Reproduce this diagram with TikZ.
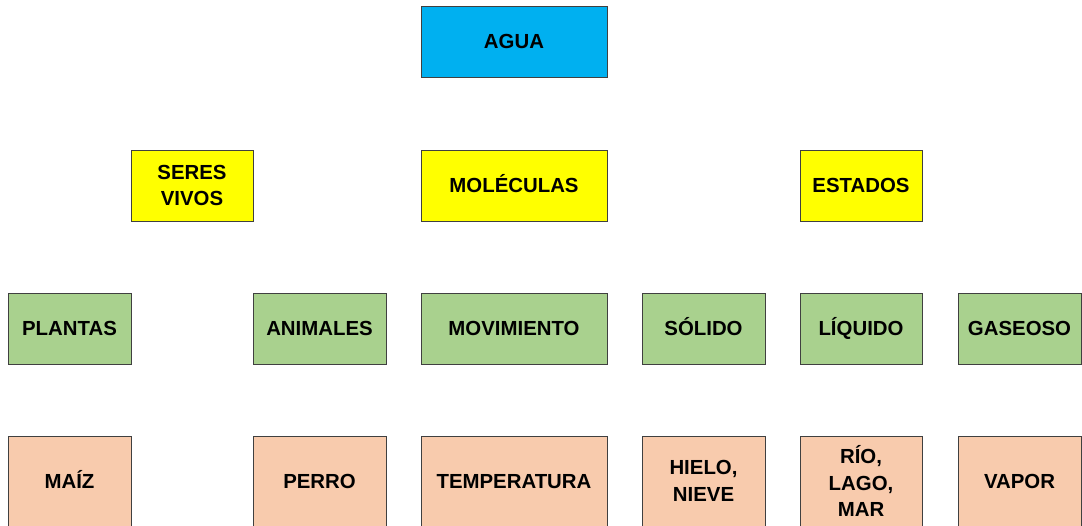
\documentclass[tikz,border=0pt]{standalone}
\usepackage{fontspec}
\setmainfont{Liberation Sans}
\definecolor{aguablue}{HTML}{00B0F0}
\definecolor{nivelyellow}{HTML}{FFFF00}
\definecolor{nivelgreen}{HTML}{A9D18E}
\definecolor{nivelsalmon}{HTML}{F8CBAD}
\begin{document}
\begin{tikzpicture}[x=0.025cm,y=-0.025cm,
   caja/.style={draw=black!75,line width=0.7pt,rectangle,align=center,inner sep=0pt,
      font=\fontsize{14.5}{18.8}\selectfont\bfseries,minimum height=71*0.025cm,
      text height=1.02em,text depth=0pt},
   varias/.style={text height=,text depth=},
   ancho/.style={minimum width=#1*0.025cm},
   azul/.style={caja,fill=aguablue},
   amarillo/.style={caja,fill=nivelyellow},
   verde/.style={caja,fill=nivelgreen},
   salmon/.style={caja,fill=nivelsalmon,minimum height=90*0.025cm}]
\useasboundingbox (0,0) rectangle (1082,525);
% nivel 1
\node[azul,ancho=186] (agua) at (514,41.5) {AGUA};
% nivel 2
\node[amarillo,varias,ancho=122] (seres) at (192,185.5) {SERES\\VIVOS};
\node[amarillo,ancho=186] (moleculas) at (514,185.5) {MOLÉCULAS};
\node[amarillo,ancho=122] (estados) at (861,185.5) {ESTADOS};
% nivel 3
\node[verde,ancho=123] (plantas) at (69.5,328.5) {PLANTAS};
\node[verde,ancho=133] (animales) at (319.5,328.5) {ANIMALES};
\node[verde,ancho=186] (movimiento) at (514,328.5) {MOVIMIENTO};
\node[verde,ancho=123] (solido) at (703.5,328.5) {SÓLIDO};
\node[verde,ancho=122] (liquido) at (861,328.5) {LÍQUIDO};
\node[verde,ancho=123] (gaseoso) at (1019.5,328.5) {GASEOSO};
% nivel 4
\node[salmon,ancho=123] (maiz) at (69.5,481) {MAÍZ};
\node[salmon,ancho=133] (perro) at (319.5,481) {PERRO};
\node[salmon,ancho=186] (temperatura) at (514,481) {TEMPERATURA};
\node[salmon,varias,ancho=123] (hielo) at (703.5,481) {HIELO,\\NIEVE};
\node[salmon,varias,ancho=122] (rio) at (861,481) {RÍO,\\LAGO,\\MAR};
\node[salmon,ancho=123] (vapor) at (1019.5,481) {VAPOR};
\end{tikzpicture}
\end{document}
